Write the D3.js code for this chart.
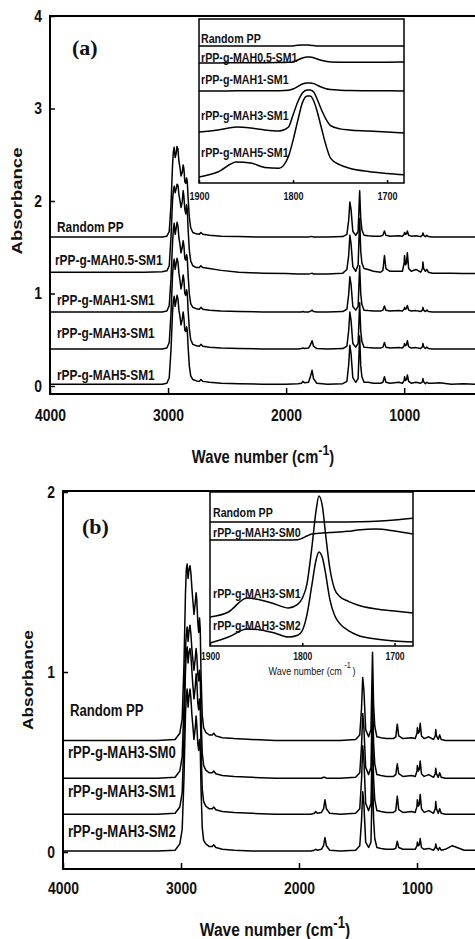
<!DOCTYPE html>
<html>
<head>
<meta charset="utf-8">
<script src="https://cdn.jsdelivr.net/npm/d3@7"></script>
<style>
body { margin: 0; background: #fff; }
svg { display: block; }
text { font-family: "Liberation Sans", Arial, sans-serif; font-weight: bold; fill: #111; }
</style>
</head>
<body>
<script>
const W = 475
const H = 939
const squeezeX = 0.82   // the original figure is horizontally compressed

// wave numbers (cm-1) shared by every full spectrum
const wn = [
  4000, 3600, 3200, 3050, 3010, 2990, 2975, 2962, 2955, 2948,
  2940, 2932, 2924, 2916, 2908, 2900, 2890, 2880, 2872, 2866,
  2858, 2850, 2843, 2837, 2830, 2820, 2808, 2790, 2760, 2735,
  2722, 2705, 2650, 2550, 2400, 2200, 2000, 1900, 1870, 1858,
  1845, 1810, 1792, 1780, 1768, 1740, 1650, 1520, 1485, 1470,
  1460, 1450, 1435, 1410, 1390, 1377, 1368, 1358, 1340, 1305,
  1260, 1200, 1180, 1167, 1155, 1120, 1045, 1015, 1000, 997,
  988, 980, 973, 962, 940, 900, 860, 845, 841, 835,
  820, 808, 795, 760, 700, 600, 500, 400
]

// ---- panel (a) : absorbance above each trace's offset ----
const namesA = ['Random PP', 'rPP-g-MAH0.5-SM1', 'rPP-g-MAH1-SM1', 'rPP-g-MAH3-SM1', 'rPP-g-MAH5-SM1']
const offsetA = [1.61, 1.21, 0.80, 0.40, 0.02]

const ppA = [
  0, 0, 0, 0, 0.01, 0.06, 0.35, 0.78, 0.92, 0.97,
  0.86, 0.9, 0.98, 0.95, 0.82, 0.76, 0.66, 0.7, 0.78, 0.74,
  0.6, 0.58, 0.64, 0.6, 0.42, 0.22, 0.1, 0.05, 0.035, 0.03,
  0.05, 0.03, 0.02, 0.01, 0.005, 0, 0, 0, 0, 0,
  0, 0, 0.005, 0.005, 0, 0, 0, 0.005, 0.03, 0.18,
  0.38, 0.3, 0.06, 0.02, 0.06, 0.5, 0.2, 0.08, 0.02, 0.015,
  0.01, 0.01, 0.02, 0.065, 0.02, 0.01, 0.015, 0.01, 0.03, 0.05,
  0.03, 0.035, 0.065, 0.02, 0.01, 0.015, 0.005, 0.02, 0.045, 0.02,
  0.005, 0.02, 0.005, 0, 0, 0, 0, 0
]
const mah05A = [
  0.02, 0.02, 0.02, 0.025, 0.035, 0.09, 0.4, 0.8, 0.9, 0.95,
  0.88, 0.92, 0.97, 0.96, 0.86, 0.8, 0.72, 0.78, 0.9, 0.84,
  0.7, 0.65, 0.75, 0.7, 0.48, 0.26, 0.14, 0.09, 0.07, 0.07,
  0.09, 0.07, 0.06, 0.04, 0.02, 0.01, 0.005, 0, 0, 0,
  0, 0, 0.005, 0.01, 0, 0, 0, 0.01, 0.05, 0.2,
  0.42, 0.33, 0.08, 0.03, 0.1, 0.6, 0.25, 0.12, 0.06, 0.05,
  0.03, 0.02, 0.04, 0.2, 0.06, 0.03, 0.03, 0.03, 0.12, 0.2,
  0.1, 0.12, 0.23, 0.06, 0.03, 0.05, 0.02, 0.06, 0.13, 0.06,
  0.03, 0.05, 0.02, 0.01, 0.01, 0.01, 0.005, 0.005
]
const mah1A = [
  0, 0, 0, 0, 0.01, 0.07, 0.36, 0.75, 0.9, 0.96,
  0.84, 0.9, 0.97, 0.93, 0.8, 0.74, 0.64, 0.7, 0.77, 0.72,
  0.58, 0.56, 0.62, 0.58, 0.4, 0.2, 0.09, 0.05, 0.035, 0.03,
  0.05, 0.03, 0.02, 0.01, 0.005, 0, 0, 0, 0, 0.005,
  0, 0, 0.01, 0.02, 0.005, 0, 0, 0.005, 0.03, 0.19,
  0.38, 0.3, 0.06, 0.02, 0.06, 0.5, 0.2, 0.08, 0.02, 0.015,
  0.01, 0.01, 0.02, 0.065, 0.02, 0.01, 0.015, 0.01, 0.03, 0.05,
  0.03, 0.04, 0.07, 0.02, 0.01, 0.015, 0.005, 0.02, 0.05, 0.02,
  0.005, 0.02, 0.005, 0, 0, 0, 0, 0
]
const mah3A = [
  0, 0, 0, 0, 0.01, 0.07, 0.38, 0.8, 0.92, 0.97,
  0.86, 0.92, 0.98, 0.94, 0.82, 0.75, 0.65, 0.72, 0.8, 0.75,
  0.6, 0.58, 0.64, 0.6, 0.42, 0.22, 0.1, 0.05, 0.035, 0.03,
  0.05, 0.03, 0.02, 0.01, 0.005, 0, 0, 0, 0.005, 0.01,
  0.005, 0.01, 0.05, 0.09, 0.03, 0.005, 0, 0.005, 0.03, 0.2,
  0.4, 0.31, 0.06, 0.02, 0.06, 0.5, 0.2, 0.08, 0.02, 0.015,
  0.01, 0.01, 0.02, 0.07, 0.02, 0.01, 0.015, 0.01, 0.035, 0.06,
  0.035, 0.045, 0.09, 0.025, 0.01, 0.015, 0.005, 0.025, 0.06, 0.025,
  0.005, 0.02, 0.005, 0, 0, 0, 0, 0
]
const mah5A = [
  0, 0, 0, 0, 0.01, 0.07, 0.37, 0.78, 0.9, 0.95,
  0.84, 0.9, 0.96, 0.92, 0.8, 0.74, 0.64, 0.7, 0.78, 0.72,
  0.58, 0.57, 0.62, 0.58, 0.4, 0.2, 0.09, 0.05, 0.035, 0.03,
  0.05, 0.03, 0.02, 0.01, 0.005, 0, 0, 0.005, 0.01, 0.03,
  0.015, 0.02, 0.09, 0.15, 0.06, 0.01, 0, 0.005, 0.03, 0.21,
  0.42, 0.33, 0.07, 0.02, 0.06, 0.52, 0.2, 0.08, 0.02, 0.02,
  0.01, 0.01, 0.02, 0.08, 0.02, 0.01, 0.02, 0.01, 0.04, 0.08,
  0.04, 0.05, 0.1, 0.03, 0.01, 0.02, 0.01, 0.025, 0.06, 0.025,
  0.005, 0.02, 0.01, 0.01, 0.015, 0, 0.005, 0
]

// ---- panel (b) ----
const namesB = ['Random PP', 'rPP-g-MAH3-SM0', 'rPP-g-MAH3-SM1', 'rPP-g-MAH3-SM2']
const offsetB = [0.62, 0.41, 0.21, 0.005]

const ppB = [
  0, 0, 0, 0.005, 0.04, 0.12, 0.42, 0.82, 0.95, 0.98,
  0.9, 0.95, 0.97, 0.93, 0.85, 0.78, 0.7, 0.76, 0.82, 0.78,
  0.66, 0.6, 0.68, 0.62, 0.36, 0.14, 0.07, 0.045, 0.03, 0.03,
  0.04, 0.025, 0.015, 0.01, 0.005, 0, 0, 0, 0, 0,
  0, 0, 0, 0, 0, 0, 0, 0.005, 0.03, 0.18,
  0.35, 0.28, 0.06, 0.02, 0.06, 0.49, 0.2, 0.08, 0.02, 0.015,
  0.01, 0.01, 0.02, 0.09, 0.025, 0.01, 0.015, 0.01, 0.04, 0.07,
  0.04, 0.05, 0.095, 0.025, 0.01, 0.02, 0.005, 0.025, 0.06, 0.025,
  0.005, 0.03, 0.005, 0, 0, 0, 0, 0
]
const sm0B = [
  0, 0, 0, 0.005, 0.04, 0.12, 0.4, 0.72, 0.8, 0.84,
  0.76, 0.82, 0.85, 0.8, 0.72, 0.66, 0.6, 0.66, 0.72, 0.68,
  0.58, 0.54, 0.6, 0.56, 0.34, 0.14, 0.07, 0.045, 0.03, 0.03,
  0.04, 0.025, 0.015, 0.01, 0.005, 0, 0, 0, 0, 0,
  0, 0, 0.005, 0.005, 0, 0, 0, 0.005, 0.03, 0.18,
  0.36, 0.28, 0.06, 0.02, 0.06, 0.5, 0.2, 0.08, 0.02, 0.015,
  0.01, 0.01, 0.02, 0.08, 0.025, 0.01, 0.015, 0.01, 0.04, 0.07,
  0.04, 0.05, 0.095, 0.025, 0.01, 0.02, 0.005, 0.025, 0.055, 0.025,
  0.005, 0.03, 0.005, 0, 0, 0, 0, 0
]
const sm1B = [
  0, 0, 0, 0.005, 0.04, 0.12, 0.42, 0.8, 0.9, 0.93,
  0.84, 0.9, 0.92, 0.88, 0.8, 0.72, 0.64, 0.7, 0.78, 0.74,
  0.62, 0.58, 0.64, 0.6, 0.36, 0.14, 0.07, 0.045, 0.03, 0.03,
  0.04, 0.025, 0.015, 0.01, 0.005, 0, 0, 0, 0.005, 0.015,
  0.005, 0.01, 0.03, 0.08, 0.03, 0.005, 0, 0.005, 0.03, 0.19,
  0.38, 0.3, 0.06, 0.02, 0.06, 0.48, 0.2, 0.08, 0.02, 0.015,
  0.01, 0.01, 0.02, 0.1, 0.025, 0.01, 0.015, 0.01, 0.045, 0.08,
  0.045, 0.055, 0.11, 0.03, 0.01, 0.02, 0.005, 0.03, 0.07, 0.03,
  0.005, 0.03, 0.005, 0, 0, 0, 0, 0
]
const sm2B = [
  0, 0, 0, 0.005, 0.04, 0.12, 0.4, 0.76, 0.86, 0.9,
  0.8, 0.86, 0.9, 0.85, 0.76, 0.7, 0.62, 0.68, 0.75, 0.7,
  0.6, 0.56, 0.62, 0.58, 0.34, 0.13, 0.06, 0.04, 0.025, 0.025,
  0.035, 0.02, 0.01, 0.005, 0, 0, 0, 0, 0.005, 0.01,
  0.005, 0.01, 0.03, 0.075, 0.03, 0.005, 0, 0.005, 0.03, 0.17,
  0.33, 0.26, 0.05, 0.02, 0.05, 0.45, 0.18, 0.07, 0.02, 0.015,
  0.01, 0.01, 0.015, 0.055, 0.02, 0.01, 0.01, 0.01, 0.03, 0.05,
  0.03, 0.035, 0.07, 0.02, 0.01, 0.015, 0.005, 0.02, 0.04, 0.02,
  0.005, 0.02, 0.005, 0.01, 0.03, 0.005, 0.005, 0
]

// ---- insets: carbonyl region, relative absorbance (0..1 of inset height) ----
const insetWn = [1900, 1880, 1860, 1845, 1830, 1815, 1805, 1800, 1795, 1790, 1785, 1782, 1778, 1775, 1770, 1765, 1760, 1750, 1740, 1720, 1700, 1680]

const inA = [
  [0.835, 0.835, 0.835, 0.835, 0.835, 0.835, 0.835, 0.836, 0.84, 0.842, 0.842, 0.84, 0.838, 0.836, 0.835, 0.835, 0.835, 0.835, 0.835, 0.835, 0.835, 0.835],
  [0.732, 0.732, 0.733, 0.733, 0.733, 0.734, 0.736, 0.738, 0.75, 0.762, 0.768, 0.768, 0.764, 0.758, 0.748, 0.742, 0.738, 0.737, 0.737, 0.737, 0.737, 0.738],
  [0.561, 0.561, 0.562, 0.562, 0.562, 0.563, 0.566, 0.573, 0.588, 0.604, 0.61, 0.61, 0.606, 0.598, 0.585, 0.575, 0.57, 0.566, 0.564, 0.563, 0.562, 0.561],
  [0.311, 0.323, 0.341, 0.335, 0.323, 0.317, 0.34, 0.415, 0.494, 0.549, 0.567, 0.567, 0.555, 0.52, 0.45, 0.39, 0.35, 0.33, 0.323, 0.317, 0.311, 0.305],
  [0.037, 0.067, 0.128, 0.122, 0.095, 0.09, 0.16, 0.26, 0.38, 0.49, 0.53, 0.53, 0.5, 0.45, 0.34, 0.23, 0.15, 0.11, 0.09, 0.07, 0.058, 0.049]
]
const inB = [
  [0.805, 0.805, 0.805, 0.805, 0.805, 0.805, 0.805, 0.805, 0.805, 0.805, 0.805, 0.805, 0.805, 0.805, 0.805, 0.805, 0.805, 0.806, 0.807, 0.81, 0.818, 0.83],
  [0.688, 0.688, 0.688, 0.688, 0.688, 0.688, 0.69, 0.7, 0.714, 0.727, 0.73, 0.732, 0.734, 0.735, 0.737, 0.738, 0.74, 0.745, 0.753, 0.76, 0.747, 0.727],
  [0.188, 0.221, 0.312, 0.299, 0.273, 0.247, 0.27, 0.31, 0.4, 0.62, 0.88, 0.974, 0.9, 0.74, 0.5, 0.37, 0.325, 0.29, 0.266, 0.24, 0.227, 0.214],
  [0.019, 0.058, 0.11, 0.104, 0.084, 0.058, 0.07, 0.1, 0.2, 0.38, 0.56, 0.61, 0.57, 0.48, 0.3, 0.2, 0.15, 0.1, 0.07, 0.045, 0.032, 0.026]
]

const xTicks = [4000, 3000, 2000, 1000]
const insetTicks = [1900, 1800, 1700]

const svg = d3.select('body').append('svg')
    .attr('width', W)
    .attr('height', H)

// compress text horizontally around its own anchor point
function squeeze (sel) {
    sel.each(function () {
        const t = d3.select(this)
        const x = +t.attr('x') || 0
        const y = +t.attr('y') || 0
        t.attr('x', 0).attr('y', 0)
            .attr('transform', `translate(${x},${y}) scale(${squeezeX},1)`)
    })
}

function styleAxis (sel, size) {
    sel.select('.domain').remove()
    sel.selectAll('line').attr('stroke', '#000').attr('stroke-width', 1.5)
    sel.selectAll('text').style('font-size', size + 'px').call(squeeze)
}

function mainPanel (o) {
    const x = d3.scaleLinear().domain(o.xDom).range(o.xRange)
    const y = d3.scaleLinear().domain(o.yDom).range(o.yRange)
    const [fl, ft, fr, fb] = o.frame

    svg.append('clipPath').attr('id', o.id)
        .append('rect')
        .attr('x', fl).attr('y', ft)
        .attr('width', fr - fl).attr('height', fb - ft)

    const lineFun = d3.line()
        .x(function (d) { return x(d[0]) })
        .y(function (d) { return y(d[1]) })

    const g = svg.append('g')
    o.series.forEach(function (s, i) {
        const pts = wn.map(function (w, j) { return [w, o.offset[i] + s[j]] })
        g.append('path')
            .attr('clip-path', `url(#${o.id})`)
            .attr('d', lineFun(pts))
            .attr('fill', 'none')
            .attr('stroke', '#000')
            .attr('stroke-width', 1.5)
            .attr('stroke-linejoin', 'round')

        g.append('text')
            .attr('x', fl + o.labelDx[i])
            .attr('y', y(o.offset[i]) - o.lift[i])
            .style('font-size', o.labelSize + 'px')
            .text(o.names[i])
            .call(squeeze)
    })

    const xAxis = svg.append('g')
        .attr('transform', `translate(0,${fb})`)
        .call(d3.axisBottom(x).tickValues(xTicks).tickFormat(d3.format('d')).tickSize(-6).tickSizeOuter(0).tickPadding(o.xPad))
    styleAxis(xAxis, 17)

    const yAxis = svg.append('g')
        .attr('transform', `translate(${fl},0)`)
        .call(d3.axisLeft(y).tickValues(o.yTicks).tickFormat(d3.format('d')).tickSize(-5).tickSizeOuter(0).tickPadding(8))
    styleAxis(yAxis, 17)

    svg.append('rect')
        .attr('x', fl).attr('y', ft)
        .attr('width', fr - fl).attr('height', fb - ft)
        .attr('fill', 'none')
        .attr('stroke', '#000')
        .attr('stroke-width', 2)

    svg.append('text')
        .attr('x', o.letter[0]).attr('y', o.letter[1])
        .style('font-family', '"Liberation Serif", "Times New Roman", serif')
        .style('font-size', '22px')
        .text(o.letterText)

    const t = svg.append('text')
        .attr('x', o.title[0]).attr('y', o.title[1])
        .attr('text-anchor', 'middle')
        .style('font-size', o.titleSize + 'px')
    t.append('tspan').text('Wave number (cm')
    t.append('tspan').attr('dy', -8).style('font-size', (o.titleSize - 3) + 'px').text('-1')
    t.append('tspan').attr('dy', 8).text(')')
    t.call(squeeze)

    svg.append('text')
        .attr('transform', `translate(${o.ylab[0]},${o.ylab[1]}) rotate(-90) scale(1,${squeezeX})`)
        .attr('text-anchor', 'middle')
        .style('font-size', o.ylabSize + 'px')
        .text('Absorbance')
}

function inset (o) {
    const [l, t, r, b] = o.box
    const x = d3.scaleLinear().domain(o.xDom).range([l, r])
    const y = d3.scaleLinear().domain([0, 1]).range([b, t])

    svg.append('clipPath').attr('id', o.id)
        .append('rect')
        .attr('x', l).attr('y', t)
        .attr('width', r - l).attr('height', b - t)

    svg.append('rect')
        .attr('x', l).attr('y', t)
        .attr('width', r - l).attr('height', b - t)
        .attr('fill', '#fff')

    const lineFun = d3.line()
        .x(function (d) { return x(d[0]) })
        .y(function (d) { return y(d[1]) })
        .curve(d3.curveMonotoneX)

    o.series.forEach(function (s, i) {
        const pts = insetWn.map(function (w, j) { return [w, s[j]] })
        svg.append('path')
            .attr('clip-path', `url(#${o.id})`)
            .attr('d', lineFun(pts))
            .attr('fill', 'none')
            .attr('stroke', '#000')
            .attr('stroke-width', 1.5)

        svg.append('text')
            .attr('x', l + o.labelDx)
            .attr('y', y(s[0]) - o.lift[i])
            .style('font-size', o.labelSize + 'px')
            .text(o.names[i])
            .call(squeeze)
    })

    const ax = svg.append('g')
        .attr('transform', `translate(0,${b})`)
        .call(d3.axisBottom(x).tickValues(insetTicks).tickFormat(d3.format('d')).tickSize(-3).tickSizeOuter(0).tickPadding(o.pad))
    styleAxis(ax, o.tickSize)

    svg.append('rect')
        .attr('x', l).attr('y', t)
        .attr('width', r - l).attr('height', b - t)
        .attr('fill', 'none')
        .attr('stroke', '#000')
        .attr('stroke-width', 1.5)

    if (o.title) {
        const tt = svg.append('text')
            .attr('x', o.title[0]).attr('y', o.title[1])
            .attr('text-anchor', 'middle')
            .style('font-size', '11px')
            .style('font-weight', 'normal')
        tt.append('tspan').text('Wave number (cm')
        tt.append('tspan').attr('dx', 3).attr('dy', -7).style('font-size', '9px').text('-1')
        tt.append('tspan').attr('dx', 2).attr('dy', 7).text(')')
        tt.call(squeeze)
    }
}

// panel (a)
mainPanel({
    id: 'clipA',
    xDom: [4000, 400], xRange: [50, 475],
    yDom: [0, 4], yRange: [386, 16], yTicks: [0, 1, 2, 3, 4],
    frame: [50, 16, 477, 394],
    series: [ppA, mah05A, mah1A, mah3A, mah5A],
    offset: offsetA, names: namesA,
    labelDx: [7, 5, 7, 7, 7], lift: [5, 9, 7, 11, 4], labelSize: 14.5,
    xPad: 15,
    letter: [72, 55], letterText: '(a)',
    title: [263, 463], titleSize: 18,
    ylab: [22, 201], ylabSize: 18.5
})

inset({
    id: 'clipIA',
    box: [199, 19, 404, 183],
    xDom: [1900, 1682],
    series: inA, names: namesA,
    labelDx: 2, lift: [3, 1, 7, 12, 20], labelSize: 13,
    pad: 9, tickSize: 11
})

// panel (b)
mainPanel({
    id: 'clipB',
    xDom: [4000, 500], xRange: [63, 476],
    yDom: [0, 2], yRange: [852, 492], yTicks: [0, 1, 2],
    frame: [63, 491, 477, 869],
    series: [ppB, sm0B, sm1B, sm2B],
    offset: offsetB, names: namesB,
    labelDx: [7, 5, 5, 5], lift: [24, 20, 17, 14], labelSize: 16,
    xPad: 13,
    letter: [82, 534], letterText: '(b)',
    title: [275, 936], titleSize: 19,
    ylab: [33, 680], ylabSize: 17.3
})

inset({
    id: 'clipIB',
    box: [210, 492, 413, 646],
    xDom: [1900, 1680],
    series: inB, names: namesB,
    labelDx: 3, lift: [5, 3, 19, 13], labelSize: 13,
    pad: 7, tickSize: 10.5,
    title: [312, 675]
})
</script>
</body>
</html>
